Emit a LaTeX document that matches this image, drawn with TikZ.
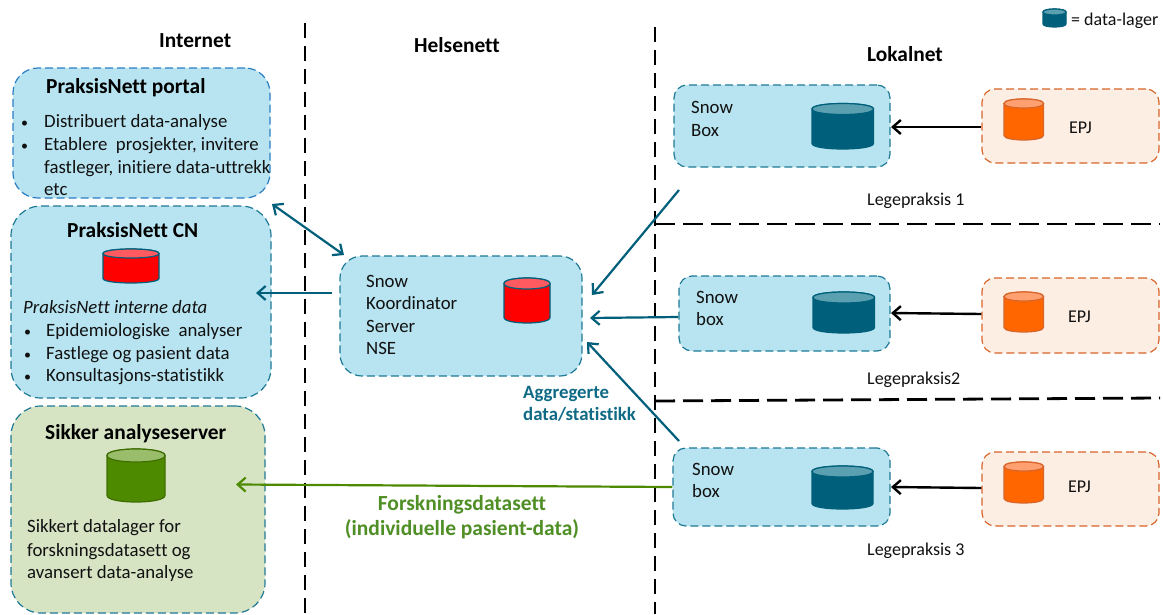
\documentclass[tikz,border=0pt]{standalone}
\usepackage{fontspec}
\setmainfont{Carlito}[Ligatures=NoCommon]
\usetikzlibrary{arrows.meta}
\definecolor{panelblue}{HTML}{B7E4F0}
\definecolor{teal}{HTML}{005F7A}
\definecolor{edgeblue}{HTML}{2A7FC4}
\definecolor{edgeteal}{HTML}{1F7A96}
\definecolor{panelgreen}{HTML}{D7E4C4}
\definecolor{panelorange}{HTML}{FDEEE4}
\definecolor{edgeorange}{HTML}{D8652A}
\definecolor{dbred}{HTML}{FF0000}
\definecolor{dbredtop}{HTML}{FF5A5F}
\definecolor{dbgreen}{HTML}{4E8A00}
\definecolor{dbgreentop}{HTML}{9ABD6C}
\definecolor{dbteal}{HTML}{005F7A}
\definecolor{dbtealtop}{HTML}{5AA0B0}
\definecolor{dborange}{HTML}{FF6600}
\definecolor{dborangetop}{HTML}{FFA070}
\definecolor{txtgreen}{HTML}{4F8F26}
\definecolor{txtteal}{HTML}{0F6A86}
\definecolor{txt}{HTML}{111111}
\newcommand{\panel}[7]{% name, style, x1,y1,x2,y2, radius
  \node[#2, rounded corners=#7pt, minimum width={(#5-#3)*1pt}, minimum height={(#6-#4)*1pt}] (#1) at ({(#3+#5)/2},{(#4+#6)/2}) {};}
\newcommand{\dbcyl}[7]{% x1,y1,x2,y2,ry,colour,stroke
  \path[fill=#6, draw=#7, line width=1.2pt]
    (#1,{#2+#5}) -- (#1,{#4-#5})
    .. controls (#1,{#4+#5/3}) and (#3,{#4+#5/3}) .. (#3,{#4-#5})
    -- (#3,{#2+#5})
    .. controls (#3,{#2-#5/3}) and (#1,{#2-#5/3}) .. (#1,{#2+#5}) -- cycle;
  \path[fill=#6top, draw=#7, line width=1.2pt]
    (#1,{#2+#5})
    .. controls (#1,{#2+#5*7/3}) and (#3,{#2+#5*7/3}) .. (#3,{#2+#5})
    .. controls (#3,{#2-#5/3}) and (#1,{#2-#5/3}) .. (#1,{#2+#5}) -- cycle;}
\newcommand{\tl}[5][body]{% style,name,x,y,text
  \node[#1] (#2) at (#3,#4) {#5};}
\begin{document}
\begin{tikzpicture}[x=1pt,y=-1pt,
  body/.style={anchor=base west,inner sep=0pt,font=\fontsize{18.8}{22}\selectfont,text=txt},
  small/.style={body,font=\fontsize{18}{22}\selectfont},
  bullet/.style={body,font=\fontsize{14}{22}\selectfont},
  bodyit/.style={body,font=\fontsize{18.8}{22}\selectfont\itshape},
  title/.style={anchor=base west,inner sep=0pt,font=\fontsize{21.4}{24}\selectfont\bfseries,text=black},
  aggr/.style={anchor=base west,inner sep=0pt,font=\fontsize{18.8}{22}\selectfont\bfseries,text=txtteal},
  forsk/.style={anchor=base,inner sep=0pt,font=\fontsize{21.5}{24}\selectfont\bfseries,text=txtgreen},
  pbox/.style={fill=panelblue,draw=edgeteal,line width=1.2pt,dash pattern=on 8pt off 4pt,inner sep=0pt},
  pboxb/.style={pbox,draw=edgeblue},
  gbox/.style={pbox,fill=panelgreen},
  obox/.style={pbox,fill=panelorange,draw=edgeorange},
  zone/.style={draw=black,line width=2.8pt,dash pattern=on 15pt off 8pt},
  zoneh/.style={draw=black,line width=2.8pt,dash pattern=on 20pt off 8pt},
  tealarrow/.style={draw=teal,line width=2.2pt,-{Straight Barb[length=8pt,width=14pt,line width=2.2pt]}},
  tealdouble/.style={draw=teal,line width=2.2pt,{Straight Barb[length=8pt,width=14pt,line width=2.2pt]}-{Straight Barb[length=8pt,width=14pt,line width=2.2pt]}},
  greenarrow/.style={draw=dbgreen,line width=2.2pt,-{Straight Barb[length=8pt,width=14pt,line width=2.2pt]}},
  blackarrow/.style={draw=black,line width=2.4pt,-{Straight Barb[length=8pt,width=14pt,line width=2.4pt]}},
]
\useasboundingbox[fill=white] (0,0) rectangle (1163,614);

% zone separators
\coordinate (va1) at (305,23); \coordinate (vb1) at (305,614);
\coordinate (va2) at (655,27); \coordinate (vb2) at (655,614);
\coordinate (ha1) at (655,224); \coordinate (hb1) at (1160,224);
\coordinate (ha2) at (655,401); \coordinate (hb2) at (1160,398);
\draw[zone] (va1) -- (vb1);
\draw[zone] (va2) -- (vb2);
\draw[zoneh] (ha1) -- (hb1);
\draw[zoneh] (ha2) -- (hb2);

% panels
\panel{portal}{pboxb}{13}{68}{270}{198}{25}
\panel{cn}{pbox}{11}{206}{271}{398}{30}
\panel{sikker}{gbox}{11}{406}{265}{613}{30}
\panel{koord}{pbox}{340}{256}{582}{376}{22}
\panel{snowa}{pbox}{674}{85}{890}{167}{13}
\panel{snowb}{pbox}{679}{276}{890}{351}{13}
\panel{snowc}{pbox}{673}{448}{890}{526}{13}
\panel{epja}{obox}{982}{89}{1159}{163}{13}
\panel{epjb}{obox}{982}{278}{1159}{353}{13}
\panel{epjc}{obox}{982}{452}{1159}{526}{13}

% cylinders
\dbcyl{103}{249}{159}{283}{4.5}{dbred}{teal}
\dbcyl{504}{278}{550}{323}{5.5}{dbred}{teal}
\dbcyl{107}{449}{165}{502}{6.5}{dbgreen}{dbgreen!80!black}
\dbcyl{812}{103.5}{873.5}{149}{5.5}{dbteal}{dbteal}
\dbcyl{813}{292}{874.5}{333}{5.5}{dbteal}{dbteal}
\dbcyl{812}{466}{873}{509}{5.5}{dbteal}{dbteal}
\dbcyl{1004}{99}{1043.5}{140}{4.5}{dborange}{edgeorange}
\dbcyl{1004}{292}{1043.5}{332}{4.5}{dborange}{edgeorange}
\dbcyl{1004}{462}{1043.5}{503}{4.5}{dborange}{edgeorange}
\dbcyl{1043}{9}{1066}{27}{3}{dbteal}{dbteal}

% connector end points
\coordinate (p1) at (272,204); \coordinate (p2) at (344,255);
\coordinate (c1) at (332,293); \coordinate (c2) at (256,293);
\coordinate (s1) at (679,190); \coordinate (k1) at (592,295);
\coordinate (k2) at (590,318); \coordinate (k3) at (587,342);
\coordinate (s3) at (679,441);
\coordinate (g1) at (236,484.5);

\draw[tealdouble] (p1) -- (p2);
\draw[tealarrow] (c1) -- (c2);
\draw[tealarrow] (s1) -- (k1);
\draw[tealarrow] (snowb.west |- 0,317) -- (k2);
\draw[tealarrow] (s3) -- (k3);
\draw[greenarrow] (snowc.west |- 0,487) -- (g1);
\draw[blackarrow] (epja.west |- 0,127) -- (891,127);
\draw[blackarrow] (epjb.west |- 0,314) -- (891,313);
\draw[blackarrow] (epjc.west |- 0,488) -- (891,487);

% headings
\tl[title]{hint}{159}{47}{Internet}
\tl[title]{hhel}{414}{52}{Helsenett}
\tl[title]{hlok}{867}{61}{Lokalnet}
\tl[small]{legend}{1071}{25}{= data-lager}

% portal
\tl[title]{tportal}{46}{93}{PraksisNett portal}
\tl[bullet]{b1}{21}{127}{•}
\tl{l1}{44}{127}{Distribuert data-analyse}
\tl[bullet]{b2}{21}{150}{•}
\tl{l2}{44}{150}{Etablere\ \ prosjekter, invitere}
\tl{l3}{44}{173}{fastleger, initiere data-uttrekk}
\tl{l4}{44}{195}{etc}

% CN
\tl[title]{tcn}{67}{237}{PraksisNett CN}
\tl[bodyit]{l5}{23}{313}{PraksisNett interne data}
\tl[bullet]{b3}{24}{336}{•}
\tl{l6}{46}{336}{Epidemiologiske\ \ analyser}
\tl[bullet]{b4}{24}{359}{•}
\tl{l7}{46}{359}{Fastlege og pasient data}
\tl[bullet]{b5}{24}{381}{•}
\tl{l8}{46}{381}{Konsultasjons-statistikk}

% Sikker
\tl[title]{tsik}{45}{439}{Sikker analyseserver}
\tl{l9}{27}{532}{Sikkert datalager for}
\tl{l10}{27}{556}{forskningsdatasett og}
\tl{l11}{27}{578}{avansert data-analyse}

% Koordinator
\tl{k10}{366}{287}{Snow}
\tl{k11}{366}{309}{Koordinator}
\tl{k12}{366}{332}{Server}
\tl{k13}{366}{354}{NSE}
\tl[aggr]{ag1}{523}{398}{Aggregerte}
\tl[aggr]{ag2}{523}{420}{data/statistikk}
\tl[forsk]{fo1}{462}{510}{Forskningsdatasett}
\tl[forsk]{fo2}{462}{535}{(individuelle pasient-data)}

% Snow boxes
\tl{sa1}{691}{113}{Snow}
\tl{sa2}{691}{136}{Box}
\tl{sb1}{696}{303}{Snow}
\tl{sb2}{696}{325}{box}
\tl{sc1}{692}{475}{Snow}
\tl{sc2}{692}{497}{box}
\tl[small]{ea}{1069}{133}{EPJ}
\tl[small]{eb}{1068}{322}{EPJ}
\tl[small]{ec}{1068}{492}{EPJ}
\tl[small]{lp1}{867}{205}{Legepraksis 1}
\tl[small]{lp2}{867}{384}{Legepraksis2}
\tl[small]{lp3}{867}{555}{Legepraksis 3}
\end{tikzpicture}
\end{document}
